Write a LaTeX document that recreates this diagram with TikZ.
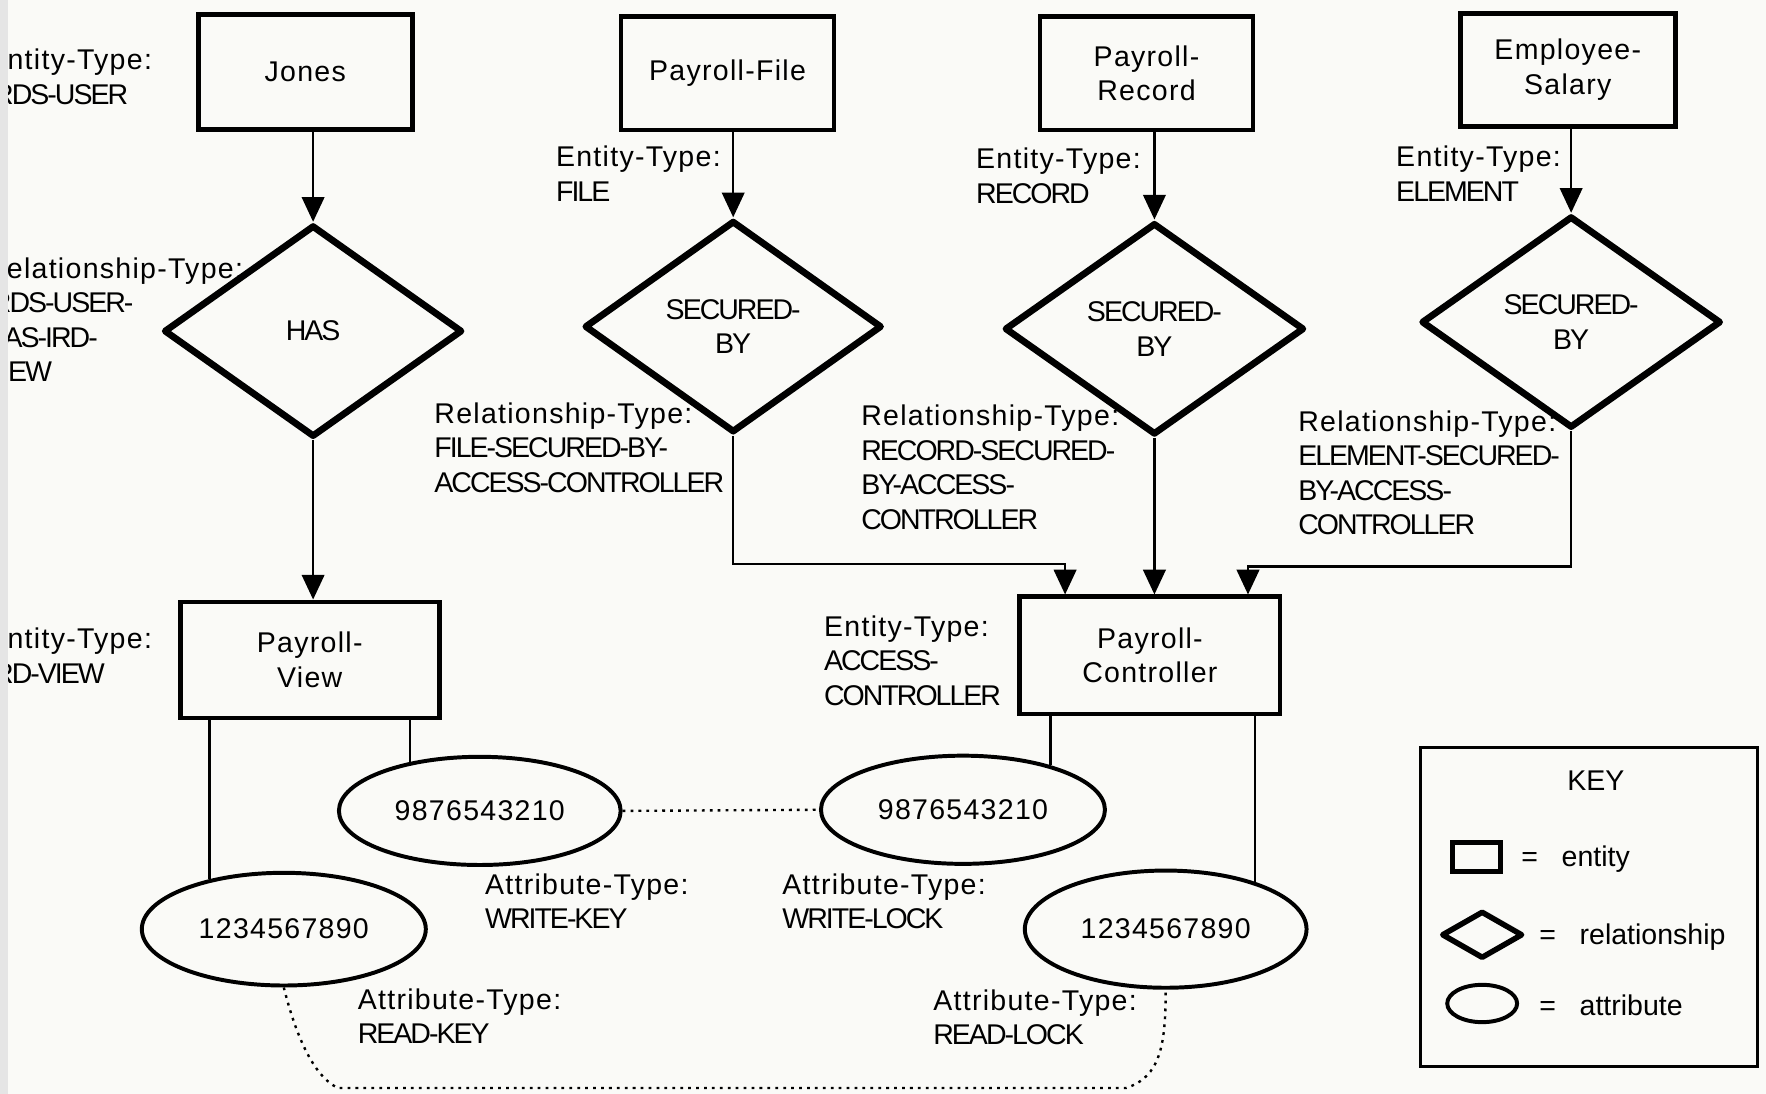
\documentclass[tikz,border=0pt]{standalone}
\usepackage{fontspec}
\setmainfont{Liberation Sans}
\newfontfamily\typefont[LetterSpace=4.5]{Liberation Sans}
\newfontfamily\capsfont[LetterSpace=-7]{Liberation Sans}
\newcommand\sz{\fontsize{7.2}{8.7}\selectfont}
\newcommand\tp[1]{{\typefont #1}}
\usetikzlibrary{shapes.geometric,arrows.meta,calc}
\definecolor{paper}{RGB}{250,250,247}
\tikzset{
	entity/.style={draw, line width=1.2pt, align=center, inner sep=1pt, font=\typefont\sz},
	relship/.style={draw, diamond, line width=1.7pt, line join=round, align=center, inner sep=0pt, font=\capsfont\sz},
	attrib/.style={draw, ellipse, line width=1pt, fill=paper, font=\typefont\sz},
	lbl/.style={align=left, anchor=north west, inner sep=0pt, font=\capsfont\sz},
	arr/.style={line width=0.6pt, -{Triangle[length=2.2mm,width=2mm]}},
	link/.style={line width=0.6pt},
	dotline/.style={line width=0.6pt, dash pattern=on 0.7pt off 1.3pt}
}

\begin{document}
\begin{tikzpicture}[x=0.01cm, y=-0.01cm, font=\sz]
		\useasboundingbox (0,0) rectangle (1568,971);
		\clip (0,0) rectangle (1568,971);
		\fill[paper] (0,0) rectangle (1568,971);

		% Entities
		\node[entity, minimum width=1.9cm, minimum height=1.02cm] (jones) at (271,64) {Jones};
		\node[entity, minimum width=1.89cm, minimum height=1.01cm] (file) at (646,65) {Payroll-File};
		\node[entity, minimum width=1.89cm, minimum height=1.01cm] (rec) at (1018,65) {Payroll-\\Record};
		\node[entity, minimum width=1.91cm, minimum height=1.0cm] (elem) at (1392,62) {Employee-\\Salary};
		\node[entity, minimum width=2.3cm, minimum height=1.03cm] (view) at (275,586) {Payroll-\\View};
		\node[entity, minimum width=2.31cm, minimum height=1.04cm] (ctrl) at (1021,582) {Payroll-\\Controller};

		% Relationships
		\node[relship, minimum width=2.65cm, minimum height=1.88cm] (has) at (278,294) {HAS};
		\node[relship, minimum width=2.64cm, minimum height=1.88cm] (secfile) at (651,290) {SECURED-\\BY};
		\node[relship, minimum width=2.66cm, minimum height=1.88cm] (secrec) at (1025,292) {SECURED-\\BY};
		\node[relship, minimum width=2.66cm, minimum height=1.88cm] (secelem) at (1395,286) {SECURED-\\BY};

		% Attributes
		\node[attrib, minimum width=2.5cm, minimum height=0.96cm] (wkey) at (426,720) {9876543210};
		\node[attrib, minimum width=2.52cm, minimum height=1.0cm] (rkey) at (252,825) {1234567890};
		\node[attrib, minimum width=2.52cm, minimum height=0.96cm] (wlock) at (855,719) {9876543210};
		\node[attrib, minimum width=2.5cm, minimum height=1.04cm] (rlock) at (1035,825) {1234567890};

		% Type labels
		\node[lbl] (etuser) at (-12,43) {\tp{Entity-Type:}\\IRDS-USER};
		\node[lbl] (rthas) at (-14,228) {\tp{Relationship-Type:}\\IRDS-USER-\\HAS-IRD-\\VIEW};
		\node[lbl] (etview) at (-12,557) {\tp{Entity-Type:}\\IRD-VIEW};
		\node[lbl] (etfile) at (493,129) {\tp{Entity-Type:}\\FILE};
		\node[lbl] (rtfile) at (385,357) {\tp{Relationship-Type:}\\FILE-SECURED-BY-\\ACCESS-CONTROLLER};
		\node[lbl] (etrec) at (866,131) {\tp{Entity-Type:}\\RECORD};
		\node[lbl] (rtrec) at (764,359) {\tp{Relationship-Type:}\\RECORD-SECURED-\\BY-ACCESS-\\CONTROLLER};
		\node[lbl] (etelem) at (1239,129) {\tp{Entity-Type:}\\ELEMENT};
		\node[lbl] (rtelem) at (1152,364) {\tp{Relationship-Type:}\\ELEMENT-SECURED-\\BY-ACCESS-\\CONTROLLER};
		\node[lbl] (etctrl) at (731,546) {\tp{Entity-Type:}\\ACCESS-\\CONTROLLER};
		\node[lbl] (atwkey) at (430,775) {\tp{Attribute-Type:}\\WRITE-KEY};
		\node[lbl] (atrkey) at (317,877) {\tp{Attribute-Type:}\\READ-KEY};
		\node[lbl] (atwlock) at (694,775) {\tp{Attribute-Type:}\\WRITE-LOCK};
		\node[lbl] (atrlock) at (828,878) {\tp{Attribute-Type:}\\READ-LOCK};

		% Connectors
		\foreach \e/\r in {jones/has, file/secfile, rec/secrec, elem/secelem} {
			\draw[arr] (\r.north |- \e.south) -- (\r.north);
		}
		\draw[arr] (has.south) -- (has.south |- view.north);
		\draw[arr] (secfile.south) -- ++(0,114) -| ($(ctrl.north west)!.18!(ctrl.north east)$);
		\draw[arr] (secrec.south) -- (secrec.south |- ctrl.north);
		\draw[arr] (secelem.south) -- ++(0,120) -| ($(ctrl.north west)!.87!(ctrl.north east)$);

		\draw[link] (view.south -| rkey.146) -- (rkey.146);
		\draw[link] (view.south -| wkey.145) -- (wkey.145);
		\draw[link] (ctrl.south -| wlock.27) -- (wlock.27);
		\draw[link] (ctrl.south -| rlock.28) -- (rlock.28);

		% Key and lock pairs
		\coordinate (dl) at (300,966);
		\coordinate (dr) at (1000,966);
		\draw[dotline] (wkey.east) -- (wlock.west);
		\draw[dotline] (rkey.south) .. controls +(8,32) and +(-25,-12) .. (dl) -- (dr) .. controls +(30,-10) and +(0,50) .. (rlock.south);

		% KEY
		\node[draw, line width=0.8pt, minimum width=2.99cm, minimum height=2.83cm] (key) at (1411,805) {};
		\node (keytitle) at (1417,693) {KEY};
		\node[entity, minimum width=0.43cm, minimum height=0.26cm, inner sep=0pt] (kent) at (1311,761) {};
		\node[relship, line width=1.4pt, minimum width=0.72cm, minimum height=0.42cm] (krel) at (1316,830) {};
		\node[attrib, minimum width=0.62cm, minimum height=0.32cm] (katt) at (1316,891) {};
		\node[anchor=west, inner sep=0pt] (tent) at (1350,763) {=\hspace{6pt}entity};
		\node[anchor=west, inner sep=0pt] (trel) at (1366,832) {=\hspace{6pt}relationship};
		\node[anchor=west, inner sep=0pt] (tatt) at (1366,893) {=\hspace{6pt}attribute};

		% scan edge
		\fill[gray!20] (0,0) rectangle (7,971);
	  \end{tikzpicture}
\end{document}
